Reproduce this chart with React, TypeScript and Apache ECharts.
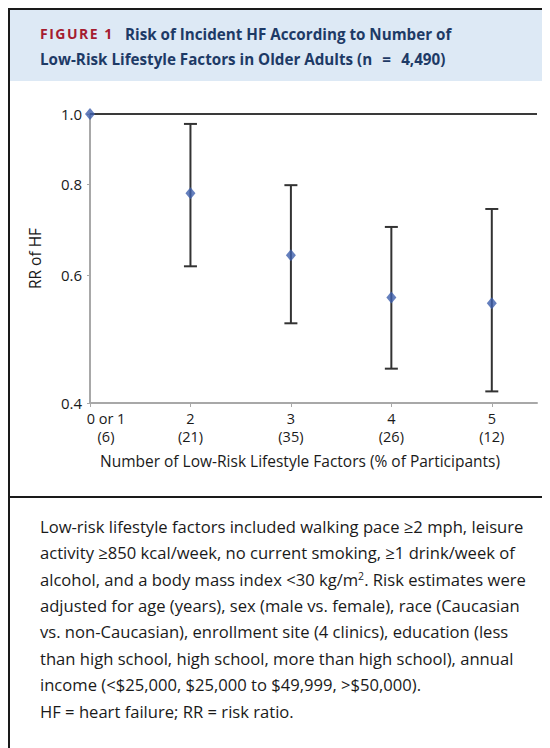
import React, { useEffect, useRef } from "react";
import * as echarts from "echarts";

const categories = ["0 or 1", "2", "3", "4", "5"];
const participantPct = ["6", "21", "35", "26", "12"];
const rrValues = [1.0, 0.778, 0.639, 0.559, 0.549];
const ciLower = [null, 0.617, 0.515, 0.446, 0.415];
const ciUpper = [null, 0.969, 0.798, 0.699, 0.74];
const yTicks = [0.4, 0.6, 0.8, 1.0];

const FONT = "'Open Sans', 'Noto Sans', sans-serif";

function Chart() {
  const ref = useRef<HTMLDivElement>(null);
  useEffect(() => {
    if (!ref.current) return;
    const chart = echarts.init(ref.current, null, { renderer: "svg" });
    const pointData = rrValues.map((v, i) => [i, v]);
    const errData = rrValues
      .map((v, i) => [i, ciLower[i], ciUpper[i]])
      .filter((d) => d[1] != null);
    chart.setOption({
      animation: false,
      textStyle: { fontFamily: FONT },
      grid: { left: 80, top: 32, right: 13, bottom: 93, containLabel: false },
      xAxis: {
        type: "value",
        min: 0,
        max: 4.45,
        interval: 1,
        name: "Number of Low-Risk Lifestyle Factors (% of Participants)",
        nameLocation: "middle",
        nameGap: 50,
        nameTextStyle: {
          fontSize: 15.5,
          color: "#1a1a1a",
          fontFamily: FONT,
          padding: [0, 27, 0, 0],
        },
        axisLine: { show: true, lineStyle: { color: "#a8a8a8", width: 2 } },
        axisTick: { show: true, length: 4, lineStyle: { color: "#a8a8a8", width: 1 } },
        splitLine: { show: false },
        axisLabel: {
          showMaxLabel: false,
          margin: 6,
          color: "#1a1a1a",
          fontSize: 14.5,
          lineHeight: 18,
          fontFamily: FONT,
          formatter: (val: number) => {
            const i = Math.round(val);
            if (Math.abs(val - i) > 1e-6 || i < 0 || i >= categories.length) return "";
            const txt = categories[i] + "\n(" + participantPct[i] + ")";
            return i === 0 ? "{first|" + txt + "}" : txt;
          },
          rich: {
            first: {
              fontSize: 14.5,
              lineHeight: 18,
              color: "#1a1a1a",
              fontFamily: FONT,
              padding: [0, 0, 0, 32],
            },
          },
        },
      },
      yAxis: {
        type: "log",
        logBase: 10,
        min: 0.4,
        max: 1.0,
        name: "RR of HF",
        nameLocation: "middle",
        nameGap: 47,
        nameTextStyle: { fontSize: 15.5, color: "#1a1a1a", fontFamily: FONT },
        axisLine: { show: true, lineStyle: { color: "#a8a8a8", width: 2 } },
        axisTick: {
          show: true,
          length: 3,
          customValues: yTicks,
          lineStyle: { color: "#a8a8a8", width: 1 },
        },
        splitLine: { show: false },
        minorTick: { show: false },
        axisLabel: {
          customValues: yTicks,
          margin: 8,
          color: "#1a1a1a",
          fontSize: 15,
          fontFamily: FONT,
          formatter: (v: number) => Number(v).toFixed(1),
        },
      },
      series: [
        {
          type: "custom",
          name: "95% CI",
          data: errData,
          z: 3,
          renderItem: (params: any, api: any) => {
            const x = api.value(0);
            const lo = api.coord([x, api.value(1)]);
            const hi = api.coord([x, api.value(2)]);
            const half = 6.5;
            const style = { stroke: "#333", lineWidth: 2 };
            return {
              type: "group",
              children: [
                { type: "line", shape: { x1: lo[0], y1: lo[1], x2: hi[0], y2: hi[1] }, style },
                { type: "line", shape: { x1: hi[0] - half, y1: hi[1], x2: hi[0] + half, y2: hi[1] }, style },
                { type: "line", shape: { x1: lo[0] - half, y1: lo[1], x2: lo[0] + half, y2: lo[1] }, style },
              ],
            };
          },
        },
        {
          type: "scatter",
          name: "RR",
          data: pointData,
          symbol: "diamond",
          symbolSize: [10, 12],
          itemStyle: { color: "#3d5fad" },
          z: 5,
          markLine: {
            silent: true,
            symbol: "none",
            label: { show: false },
            lineStyle: { color: "#3a3a3a", width: 2, type: "solid" },
            data: [{ yAxis: 1.0 }],
          },
        },
      ],
    });
    return () => chart.dispose();
  }, []);
  return <div ref={ref} style={{ position: "absolute", left: 2, top: 74, width: 540, height: 414 }} />;
}

const captionLines: React.ReactNode[] = [
  "Low-risk lifestyle factors included walking pace \u22652 mph, leisure",
  "activity \u2265850 kcal/week, no current smoking, \u22651 drink/week of",
  <>
    alcohol, and a body mass index {"<"}30 kg/m
    <sup style={{ fontSize: 10.5, lineHeight: 0, verticalAlign: "6px" }}>2</sup>. Risk estimates were
  </>,
  "adjusted for age (years), sex (male vs. female), race (Caucasian",
  "vs. non-Caucasian), enrollment site (4 clinics), education (less",
  "than high school, high school, more than high school), annual",
  "income (<$25,000, $25,000 to $49,999, >$50,000).",
  "HF = heart failure; RR = risk ratio.",
];

export default function App() {
  return (
    <div
      style={{
        position: "relative",
        width: 542,
        height: 740,
        overflow: "hidden",
        background: "#fff",
        fontFamily: FONT,
      }}
    >
      <div style={{ position: "absolute", left: 0, top: 0, width: 542, height: 2, background: "#1a1a1a" }} />
      <div style={{ position: "absolute", left: 0, top: 0, width: 2, height: 740, background: "#1a1a1a" }} />
      <div style={{ position: "absolute", left: 2, top: 2, width: 540, height: 71, background: "#dde9f5" }} />
      <div
        style={{
          position: "absolute",
          left: 32,
          top: 16,
          lineHeight: "20px",
          fontSize: 14,
          fontWeight: 700,
          letterSpacing: 1.5,
          color: "#a51c30",
          whiteSpace: "nowrap",
        }}
      >
        FIGURE 1
      </div>
      <div
        style={{
          position: "absolute",
          left: 117,
          top: 16,
          lineHeight: "20px",
          fontSize: 15.2,
          fontWeight: 700,
          color: "#1d3a66",
          whiteSpace: "nowrap",
        }}
      >
        Risk of Incident HF According to Number of
      </div>
      <div
        style={{
          position: "absolute",
          left: 32,
          top: 41,
          lineHeight: "20px",
          fontSize: 15.2,
          fontWeight: 700,
          color: "#1d3a66",
          whiteSpace: "nowrap",
        }}
      >
        Low-Risk Lifestyle Factors in Older Adults (n{"\u2002\u2009"}={"\u2002\u2009"}4,490)
      </div>
      <Chart />
      <div style={{ position: "absolute", left: 0, top: 488, width: 542, height: 2, background: "#1a1a1a" }} />
      <div
        style={{
          position: "absolute",
          left: 32,
          top: 505.8,
          fontSize: 16.6,
          lineHeight: "26.4px",
          color: "#1a1a1a",
          whiteSpace: "nowrap",
        }}
      >
        {captionLines.map((l, i) => (
          <div key={i}>{l}</div>
        ))}
      </div>
    </div>
  );
}
